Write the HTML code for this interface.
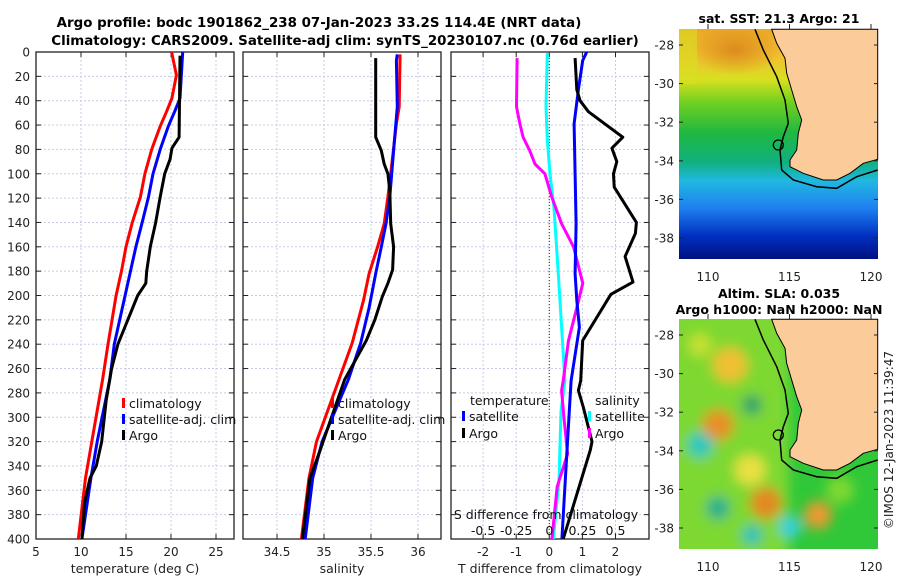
<!DOCTYPE html>
<html><head><meta charset="utf-8"><style>
body{margin:0;background:#fff}
svg{display:block;font-family:"DejaVu Sans","Liberation Sans",sans-serif}
</style></head><body>
<svg id="s" width="900" height="580" viewBox="0 0 900 580">
<text x="319" y="27" font-size="13.4" font-weight="bold" text-anchor="middle">Argo profile: bodc 1901862_238 07-Jan-2023 33.2S 114.4E (NRT data)</text>
<text x="345" y="45" font-size="13.4" font-weight="bold" text-anchor="middle">Climatology: CARS2009. Satellite-adj clim: synTS_20230107.nc (0.76d earlier)</text>
<g id="plots"></g>
<g id="maps"></g>
<text transform="translate(893,440) rotate(-90)" font-size="12" text-anchor="middle" fill="#222">©IMOS 12-Jan-2023 11:39:47</text>
</svg>
<script>
// ---- data ----
const depthTicks=[0,20,40,60,80,100,120,140,160,180,200,220,240,260,280,300,320,340,360,380,400];
const tempTicks=[5,10,15,20,25];
const salTicks=[34.5,35,35.5,36];
const tdiffTicks=[-2,-1,0,1,2];
const sdiffTicks=[-0.5,-0.25,0,0.25,0.5];
const sdiffLabels=["-0.5","-0.25","0","0.25","0.5"];
const tClimD=[0,19,38,49,61,80,100,119,140,160,180,200,240,269,320,350,400];
const tClimV=[20.07,20.6,20.1,19.5,18.8,17.85,17.1,16.6,15.7,15.0,14.5,13.9,13.0,12.4,11.2,10.5,9.7];
const tSatD=[0,38,49,61,80,100,119,140,160,180,200,240,269,320,350,400];
const tSatV=[21.3,21.0,20.4,19.7,18.8,18.0,17.5,16.8,16.1,15.5,14.9,13.7,13.2,11.8,11.1,10.1];
const tArgoD=[3,70,79,88,100,119,140,160,180,190,200,220,240,260,286,320,340,350,370,400];
const tArgoV=[21.0,20.9,20.1,19.9,19.3,18.8,18.3,17.7,17.3,17.2,16.3,15.2,14.1,13.4,12.8,12.3,11.7,11.0,10.4,10.1];
const sClimD=[2,45,59,100,119,141,160,182,204,239,269,320,350,400];
const sClimV=[35.81,35.80,35.77,35.71,35.68,35.64,35.57,35.48,35.42,35.30,35.16,34.92,34.84,34.76];
const sSatD=[2,7,45,72,119,141,160,182,210,239,269,320,350,400];
const sSatV=[35.78,35.77,35.78,35.75,35.70,35.66,35.61,35.55,35.48,35.39,35.26,34.98,34.88,34.80];
const sArgoD=[5,70,81,92,100,114,141,160,179,190,201,220,237,269,300,327,350,400];
const sArgoV=[35.55,35.55,35.61,35.64,35.68,35.70,35.71,35.74,35.73,35.68,35.62,35.54,35.45,35.22,35.08,34.96,34.85,34.77];
const dTSatD=[0,7,31,59,100,141,182,204,226,270,330,400];
const dTSatV=[1.13,1.01,0.88,0.75,0.78,0.81,0.78,0.83,0.91,0.66,0.53,0.38];
const dTArgoD=[5,31,40,49,70,79,90,100,111,140,149,168,189,199,237,270,278,292,320,327,400];
const dTArgoV=[0.78,0.83,0.93,1.18,2.22,1.89,2.04,1.94,1.96,2.63,2.6,2.29,2.53,1.86,1.01,0.95,0.88,1.03,1.29,1.24,0.42];
const dSSatD=[1,45,72,100,127,182,270,295,352,400];
const dSSatV=[-0.015,-0.025,-0.015,0.005,0.035,0.068,0.118,0.088,0.073,0.03];
const dSArgoD=[5,45,59,70,81,92,100,119,141,160,190,210,237,270,278,300,330,357,400];
const dSArgoV=[-0.243,-0.248,-0.222,-0.198,-0.148,-0.108,-0.033,0.018,0.093,0.183,0.253,0.208,0.145,0.105,0.093,0.11,0.138,0.06,0.02];

const NS="http://www.w3.org/2000/svg";
const g=document.getElementById('plots');
function el(t,a,p){const e=document.createElementNS(NS,t);for(const k in a)e.setAttribute(k,a[k]);(p||g).appendChild(e);return e;}
const Y0=52,Y1=539;
const yS=d=>Y0+(d/400)*(Y1-Y0);
function panel(name,x0,x1,xs,xticks,xlabels,title,left){
  const grp=el('g',{});
  
  
  el('rect',{x:x0,y:Y0,width:x1-x0,height:Y1-Y0,fill:'#fff'},grp);
  depthTicks.forEach(d=>{if(d>0&&d<400){const l=el('line',{x1:x0,x2:x1,y1:yS(d),y2:yS(d),stroke:'#c6cbe6','stroke-dasharray':'2,2','stroke-width':1},grp);}
    el('line',{x1:x0,x2:x0+5,y1:yS(d),y2:yS(d),stroke:'#222'},grp);el('line',{x1:x1-5,x2:x1,y1:yS(d),y2:yS(d),stroke:'#222'},grp);
    if(left){const t=el('text',{x:x0-6,y:yS(d)+4.5,'font-size':12,'text-anchor':'end',fill:'#222'},grp);t.textContent=d;}});
  xticks.forEach((v,i)=>{const x=xs(v);
    if(x>x0+1&&x<x1-1){const l=el('line',{x1:x,x2:x,y1:Y0,y2:Y1,stroke:'#c6cbe6','stroke-dasharray':'2,2'},grp);}
    el('line',{x1:x,x2:x,y1:Y0,y2:Y0+5,stroke:'#222'},grp);el('line',{x1:x,x2:x,y1:Y1-5,y2:Y1,stroke:'#222'},grp);
    const t=el('text',{x:x,y:556,'font-size':12,'text-anchor':'middle',fill:'#222'},grp);t.textContent=xlabels[i];});
  const t=el('text',{x:(x0+x1)/2,y:573,'font-size':12.5,'text-anchor':'middle',fill:'#222'},grp);t.textContent=title;
  
  el('rect',{x:x0,y:Y0,width:x1-x0,height:Y1-Y0,fill:'none',stroke:'#222','stroke-width':1.3},grp);
  return grp;
}
function line(name,D,V,xs,col){
  const p=el('polyline',{points:D.map((d,i)=>xs(V[i]).toFixed(1)+','+yS(d).toFixed(1)).join(' '),fill:'none',stroke:col,'stroke-width':3,'stroke-linejoin':'round'});
  
}
function lab(x,y,txt,col,name){
  if(col){const r=el('rect',{x:x,y:y-10,width:3,height:10,fill:col});}
  const t=el('text',{x:x+(col?7:0),y:y,'font-size':12.5,fill:'#111'});t.textContent=txt;
}
// panel 1
const xT=v=>36+(v-5)*9;
panel('temperature-panel',36,234,xT,tempTicks,tempTicks.map(String),'temperature (deg C)',true);
line('temp-climatology',tClimD,tClimV,xT,'#f00');
line('temp-satellite-adj',tSatD,tSatV,xT,'#00f');
line('temp-argo',tArgoD,tArgoV,xT,'#000');
lab(122,408,'climatology','#f00','legend-climatology');
lab(122,424,'satellite-adj. clim','#00f','legend-satellite-adj');
lab(122,440,'Argo','#000','legend-argo');
// panel 2
const xS=v=>277+(v-34.5)*94;
panel('salinity-panel',243,441,xS,salTicks,["34.5","35","35.5","36"],'salinity',false);
line('sal-climatology',sClimD,sClimV,xS,'#f00');
line('sal-satellite-adj',sSatD,sSatV,xS,'#00f');
line('sal-argo',sArgoD,sArgoV,xS,'#000');
lab(331,408,'climatology','#f00','legend-sal-climatology');
lab(331,424,'satellite-adj. clim','#00f','legend-sal-satellite-adj');
lab(331,440,'Argo','#000','legend-sal-argo');
// panel 3
const xD=v=>549.3+v*33.1;
const xDS=v=>xD(v*4);
panel('difference-panel',451,649,xD,tdiffTicks,tdiffTicks.map(String),'T difference from climatology',false);
const z=el('line',{x1:549.3,x2:549.3,y1:Y0,y2:Y1,stroke:'#445533','stroke-dasharray':'1,2','stroke-width':1.2});

line('sdiff-satellite',dSSatD,dSSatV,xDS,'#0ff');
line('sdiff-argo',dSArgoD,dSArgoV,xDS,'#f0f');
line('tdiff-satellite',dTSatD,dTSatV,xD,'#00f');
line('tdiff-argo',dTArgoD,dTArgoV,xD,'#000');
lab(470,405,'temperature',null,'legend-temperature-heading');
lab(462,421,'satellite','#00f','legend-t-satellite');
lab(462,438,'Argo','#000','legend-t-argo');
lab(595,405,'salinity',null,'legend-salinity-heading');
lab(588,421,'satellite','#0ff','legend-s-satellite');
lab(588,438,'Argo','#f0f','legend-s-argo');
{const t=el('text',{x:546,y:519,'font-size':12.5,'text-anchor':'middle',fill:'#111'});t.textContent='S difference from climatology';}
sdiffTicks.forEach((v,i)=>{const t=el('text',{x:xDS(v),y:535,'font-size':12.5,'text-anchor':'middle',fill:'#111'});t.textContent=sdiffLabels[i];});

// ---- maps ----
const mg=document.getElementById('maps');
const mx=lon=>708+(lon-110)*16.3;
const my=lat=>45+(-28-lat)*19.3;
const coast=[[365,88],[380,130],[405,175],[410,220],[425,270],[440,320],[455,360],[445,400],[440,450],[420,480],[420,500],[460,520],[520,540],[560,540],[600,520],[640,490],[683,478],[683,88]];
const shelf=[[315,88],[340,150],[380,230],[405,300],[415,370],[400,410],[390,450],[395,510],[430,540],[500,560],[560,565],[620,530],[683,510]];
function map(off,name,title1,title2,bg){
  const m=el('g',{},mg);
  m.innerHTML=bg;
  const pts=a=>a.map(p=>(650+p[0]/3).toFixed(1)+','+(off+p[1]/3).toFixed(1)).join(' ');
  el('polygon',{points:pts(coast),fill:'#fbcb9a',stroke:'#000','stroke-width':1},m);
  el('polyline',{points:pts(shelf),fill:'none',stroke:'#000','stroke-width':1.5},m);
  el('circle',{cx:650+385/3,cy:off+435/3,r:5,fill:'none',stroke:'#000','stroke-width':1.3},m);
  [-28,-30,-32,-34,-36,-38].forEach(l=>{const y=my(l)+off;el('line',{x1:679,x2:683,y1:y,y2:y,stroke:'#222'},m);el('line',{x1:874,x2:878,y1:y,y2:y,stroke:'#222'},m);
    const t=el('text',{x:674,y:y+4.5,'font-size':12,'text-anchor':'end',fill:'#222'},m);t.textContent=l;});
  [110,115,120].forEach(l=>{const x=mx(l);el('line',{x1:x,x2:x,y1:off+29,y2:off+24,stroke:'#222'},m);
    const t=el('text',{x:x,y:off+281,'font-size':12,'text-anchor':'middle',fill:'#222'},m);t.textContent=l;});
  const t=el('text',{x:779,y:off+(title2?8:23),'font-size':12.5,'font-weight':'bold','text-anchor':'middle'},m);t.textContent=title1;
  if(title2){const t2=el('text',{x:779,y:off+24,'font-size':12.5,'font-weight':'bold','text-anchor':'middle'},m);t2.textContent=title2;}
}
const sstBg=`<defs><linearGradient id="sst" x1="0" y1="0" x2="0" y2="1">
<stop offset="0" stop-color="#eaa828"/><stop offset="0.12" stop-color="#f0c030"/><stop offset="0.22" stop-color="#d8e020"/>
<stop offset="0.32" stop-color="#70d020"/><stop offset="0.45" stop-color="#20b840"/><stop offset="0.58" stop-color="#10b080"/><stop offset="0.66" stop-color="#20b8e0"/>
<stop offset="0.78" stop-color="#1e7ff0"/><stop offset="0.9" stop-color="#0030c0"/><stop offset="1" stop-color="#001080"/></linearGradient>
<radialGradient id="warm"><stop offset="0" stop-color="#d88018"/><stop offset="1" stop-color="#d88018" stop-opacity="0"/></radialGradient>
<clipPath id="c1"><rect x="679" y="29" width="199" height="230"/></clipPath></defs>
<g clip-path="url(#c1)"><rect x="679" y="29" width="199" height="230" fill="url(#sst)"/>
<ellipse cx="735" cy="50" rx="45" ry="25" fill="url(#warm)" opacity="0.8"/>
<rect x="679" y="29" width="18" height="55" fill="#d8e020" opacity="0.6"/></g>`;
map(0,'sst-map','sat. SST: 21.3 Argo: 21',null,sstBg);
const slaBg=`<defs><filter id="bl"><feGaussianBlur stdDeviation="6"/></filter>
<clipPath id="c2"><rect x="679" y="319" width="199" height="230"/></clipPath></defs>
<g clip-path="url(#c2)"><rect x="679" y="319" width="199" height="230" fill="#30c838"/>
<g filter="url(#bl)"><rect x="660" y="300" width="129" height="270" fill="#90dc30" opacity="0.8"/>
<circle cx="730" cy="365" r="18" fill="#f0c030"/><circle cx="718" cy="425" r="16" fill="#e89028"/>
<circle cx="766" cy="503" r="16" fill="#e48820"/><circle cx="818" cy="515" r="14" fill="#eb9a30"/><circle cx="750" cy="470" r="16" fill="#e8e040"/>
<circle cx="700" cy="445" r="13" fill="#28c8c0"/><circle cx="718" cy="508" r="12" fill="#20b090"/><circle cx="790" cy="527" r="11" fill="#30d0e0"/>
<circle cx="752" cy="535" r="10" fill="#20c0c0"/><circle cx="752" cy="405" r="10" fill="#20a070"/><circle cx="700" cy="345" r="12" fill="#c8e030"/><circle cx="840" cy="490" r="14" fill="#80d830"/></g></g>`;
map(290,'sla-map','Altim. SLA: 0.035','Argo h1000: NaN h2000: NaN',slaBg);
</script>
</body></html>
